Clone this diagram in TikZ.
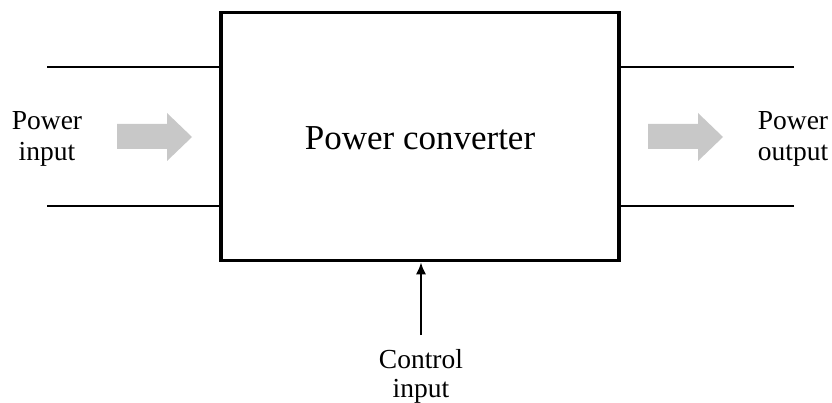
\documentclass[tikz,border=0pt]{standalone}
\usepackage{fontspec}
\setmainfont{Liberation Serif}
\usetikzlibrary{arrows.meta}
\definecolor{arrowgray}{RGB}{200,200,200}
\tikzset{
  lbl/.style={font=\fontsize{27.5}{31}\selectfont, inner sep=0pt, anchor=base},
  wire/.style={line width=2pt},
  bigarrow/.style={fill=arrowgray, draw=none},
}
\begin{document}
\begin{tikzpicture}[x=1pt,y=-1pt]
\useasboundingbox (0,0) rectangle (832,403);
\node[draw, line width=3.5pt, minimum width=398pt, minimum height=248pt, inner sep=0pt] (box) at (420,136.5) {};
\node[font=\fontsize{35}{40}\selectfont, inner sep=0pt, anchor=base] (title) at (420,150) {Power converter};
% wires
\coordinate (lt) at (47,67);
\coordinate (lb) at (47,206);
\coordinate (rt) at (794,67);
\coordinate (rb) at (794,206);
\draw[wire] (lt) -- (lt -| box.west);
\draw[wire] (lb) -- (lb -| box.west);
\draw[wire] (rt) -- (rt -| box.east);
\draw[wire] (rb) -- (rb -| box.east);
% gray arrows
\fill[bigarrow] (117,124) -- (167,124) -- (167,113) -- (192,137) -- (167,161) -- (167,149) -- (117,149) -- cycle;
\fill[bigarrow] (648,124) -- (698,124) -- (698,113) -- (723,137) -- (698,161) -- (698,149) -- (648,149) -- cycle;
% labels
\node[lbl] (pi1) at (47,130) {Power};
\node[lbl] (pi2) at (47,161) {input};
\node[lbl] (po1) at (793,130) {Power};
\node[lbl] (po2) at (793,161) {output};
\node[lbl] (ci1) at (421,368) {Control};
\node[lbl] (ci2) at (421,397) {input};
% control arrow
\coordinate (c) at (421,335);
\draw[wire, -{Latex[length=12pt,width=10pt]}] (c) -- (c |- box.south);
\end{tikzpicture}
\end{document}
